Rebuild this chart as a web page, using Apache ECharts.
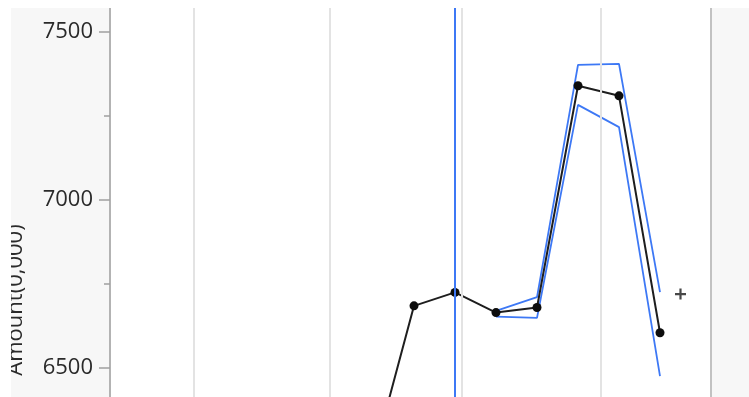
<!DOCTYPE html>
<html>
<head>
<meta charset="utf-8">
<script src="https://cdn.jsdelivr.net/npm/echarts@6/dist/echarts.min.js"></script>
<style>
  html, body { margin: 0; padding: 0; background: #ffffff; overflow: hidden; width: 749px; height: 397px; }
  #frame { position: absolute; left: 11px; top: 8px; width: 738px; height: 389px; overflow: hidden; background: #f7f7f7; }
  #chart { position: absolute; left: 0; top: -160px; width: 738px; height: 700px; }
</style>
</head>
<body>
<div id="frame"><div id="chart"></div></div>
<script>
// Period index of each observation (0 = first period shown in full)
const periods = [-1, 0, 1, 2, 3, 4, 5, 6];
// Observed amount, in units of 0,000
const amounts = [6230, 6685, 6725, 6665, 6680, 7340, 7310, 6605];

// Upper / lower bounds of the estimate band
const bandPeriods = [2, 3, 4, 5, 6];
const bandUpper = [6670, 6711, 7402, 7405, 6726];
const bandLower = [6653, 6649, 7283, 7217, 6476];

// Next-period projection marker
const projectionPeriod = [6.5];
const projectionValue = [6720];

// Reference period highlighted by the cursor line
const cursorPeriod = 1;

// Vertical grid positions along the period axis
const gridPeriods = [-5.366, -2.049, 1.171, 4.561];

// Y axis tick values
const yTicks = [6000, 6500, 7000, 7500, 8000];

const pair = (xs, ys) => xs.map((x, i) => [x, ys[i]]);

const chart = echarts.init(document.getElementById('chart'), null, { renderer: 'canvas' });

chart.setOption({
  animation: false,
  backgroundColor: 'transparent',
  grid: {
    left: 99, right: 38, top: 16, bottom: 12,
    show: true, backgroundColor: '#ffffff',
    borderColor: '#c2c2c2', borderWidth: 2
  },
  xAxis: {
    type: 'value',
    min: -7.415, max: 7.244,
    show: false
  },
  yAxis: {
    type: 'value',
    min: yTicks[0], max: yTicks[yTicks.length - 1], interval: 500,
    axisLine: { show: true, onZero: false, lineStyle: { color: '#b3b3b3', width: 2 } },
    axisTick: { show: true, length: 11, lineStyle: { color: '#a0a0a0', width: 1.5 } },
    minorTick: { show: true, splitNumber: 2, length: 6, lineStyle: { color: '#a0a0a0', width: 1.5 } },
    splitLine: { show: false },
    axisLabel: {
      fontSize: 22, color: '#2a2a2a', fontFamily: 'Open Sans', margin: 17,
      formatter: v => String(v)
    }
  },
  graphic: [{
    type: 'text',
    x: 5, y: 452,
    rotation: Math.PI / 2,
    style: {
      text: 'Amount(0,000)',
      font: '22px "Open Sans"',
      fill: '#2a2a2a',
      align: 'center',
      verticalAlign: 'middle'
    }
  }],
  series: [
    {
      name: 'grid',
      type: 'line',
      data: [],
      z: 1,
      silent: true,
      markLine: {
        silent: true,
        symbol: 'none',
        label: { show: false },
        animation: false,
        lineStyle: { color: '#e3e3e3', width: 2, type: 'solid' },
        data: gridPeriods.map(x => ({ xAxis: x }))
      }
    },
    {
      name: 'cursor',
      type: 'line',
      data: [],
      z: 2,
      silent: true,
      markLine: {
        silent: true,
        symbol: 'none',
        label: { show: false },
        animation: false,
        lineStyle: { color: '#3d78f5', width: 2, type: 'solid' },
        data: [{ xAxis: cursorPeriod }]
      }
    },
    {
      name: 'upper',
      type: 'line',
      data: pair(bandPeriods, bandUpper),
      showSymbol: false,
      z: 3,
      lineStyle: { color: '#3d78f5', width: 1.8 }
    },
    {
      name: 'lower',
      type: 'line',
      data: pair(bandPeriods, bandLower),
      showSymbol: false,
      z: 3,
      lineStyle: { color: '#3d78f5', width: 1.8 }
    },
    {
      name: 'amount',
      type: 'line',
      data: pair(periods, amounts),
      z: 4,
      symbol: 'circle',
      symbolSize: 9,
      showAllSymbol: true,
      itemStyle: { color: '#0d0d0d' },
      lineStyle: { color: '#1e1e1e', width: 2 }
    },
    {
      name: 'projection',
      type: 'scatter',
      data: pair(projectionPeriod, projectionValue),
      z: 5,
      symbol: 'path://M4,0H6V4H10V6H6V10H4V6H0V4H4Z',
      symbolSize: 11,
      itemStyle: { color: '#1a1a1a' }
    }
  ]
});
</script>
</body>
</html>
